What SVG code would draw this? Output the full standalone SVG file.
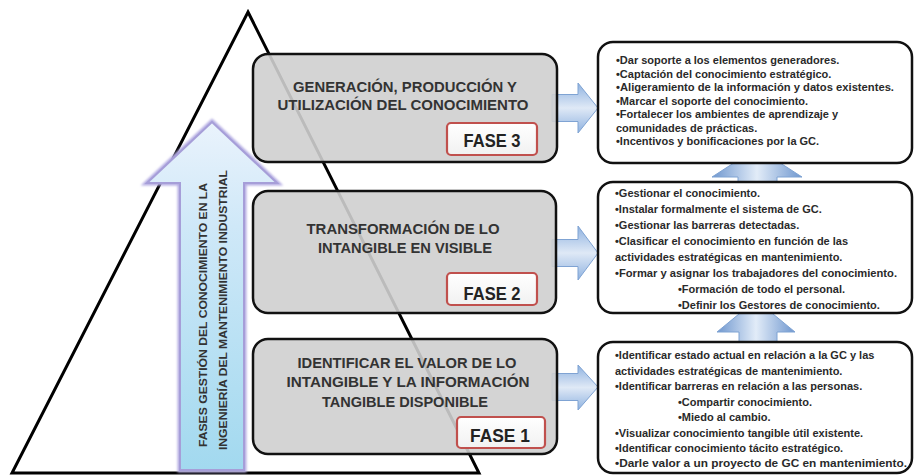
<svg xmlns="http://www.w3.org/2000/svg" width="915" height="475" viewBox="0 0 915 475">
  <defs>
    <style>
      .phase { fill: #cfcfcf; fill-opacity: 0.9; stroke: #111; stroke-width: 2.5; }
      .detail { fill: #fff; stroke: #111; stroke-width: 2.5; }
      .tag { fill: url(#tagFill); stroke: #c0504d; stroke-width: 2.2; }
      .ptitle { font-family: "Liberation Sans", Arial, sans-serif; font-weight: bold; font-size: 14px; fill: #333; text-anchor: middle; }
      .tagtxt { font-family: "Liberation Sans", Arial, sans-serif; font-weight: bold; font-size: 19px; fill: #222; text-anchor: middle; }
      .item { font-family: "Liberation Sans", Arial, sans-serif; font-weight: bold; font-size: 11px; fill: #2a2a2a; }
      .vtxt { font-family: "Liberation Sans", Arial, sans-serif; font-weight: bold; font-size: 11.5px; fill: #333; text-anchor: middle; }
      .rarrow { fill: url(#rArrowFill); stroke: #7fa3d3; stroke-width: 1; }
      .uarrow { fill: url(#uArrowFill); stroke: #7fa3d3; stroke-width: 1; }
    </style>
    <linearGradient id="tagFill" x1="0" y1="0" x2="0" y2="1">
      <stop offset="0" stop-color="#ffffff"/>
      <stop offset="1" stop-color="#f1f1f1"/>
    </linearGradient>
    <linearGradient id="rArrowFill" x1="0" y1="0" x2="0" y2="1">
      <stop offset="0" stop-color="#8fb2e0"/>
      <stop offset="0.5" stop-color="#dfe9f6"/>
      <stop offset="1" stop-color="#8fb2e0"/>
    </linearGradient>
    <linearGradient id="uArrowFill" x1="0" y1="0" x2="1" y2="0">
      <stop offset="0" stop-color="#6f97cf"/>
      <stop offset="0.5" stop-color="#e2ecf8"/>
      <stop offset="1" stop-color="#6f97cf"/>
    </linearGradient>
    <linearGradient id="bigArrowFill" x1="0" y1="0" x2="0" y2="1">
      <stop offset="0" stop-color="#eaf3fc"/>
      <stop offset="0.3" stop-color="#cfe8f8"/>
      <stop offset="1" stop-color="#a2d9ef"/>
    </linearGradient>
    <filter id="soft" x="-10%" y="-10%" width="120%" height="120%">
      <feGaussianBlur stdDeviation="1.2"/>
    </filter>
  </defs>

  <!-- pyramid outline -->
  <g id="pyramid">
    <polygon points="248,12 479,473 12,473" fill="none" stroke="#000" stroke-width="3" stroke-linejoin="miter"/>
  </g>

  <!-- vertical arrow with the axis title -->
  <g id="axis-arrow">
    <polygon points="180,470 180,183 147,183 212,122 277,183 244,183 244,470" fill="none" stroke="#b3abe2" stroke-width="5" filter="url(#soft)"/>
    <polygon points="180,470 180,183 147,183 212,122 277,183 244,183 244,470" fill="url(#bigArrowFill)" stroke="#a69ed8" stroke-width="2"/>
    <text class="vtxt" transform="translate(207,315) rotate(-90)" textLength="264" lengthAdjust="spacingAndGlyphs">FASES GESTIÓN DEL CONOCIMIENTO EN LA</text>
    <text class="vtxt" transform="translate(227,310) rotate(-90)" textLength="280" lengthAdjust="spacingAndGlyphs">INGENIERÍA DEL MANTENIMIENTO INDUSTRIAL</text>
  </g>

  <!-- connectors: phase to actions, and between action groups -->
  <g id="connectors">
    <polygon class="rarrow" points="552,94.5 578,94.5 578,83 598,108 578,133 578,121.5 552,121.5"/>
    <polygon class="rarrow" points="552,239.5 578,239.5 578,226 598,253 578,280 578,266.5 552,266.5"/>
    <polygon class="rarrow" points="552,373.5 578,373.5 578,365 598,387 578,410 578,400.5 552,400.5"/>
    <polygon class="uarrow" points="738,190 738,177 712,177 757,148 802,177 777,177 777,190"/>
    <polygon class="uarrow" points="739,350 739,332 717,332 756,300 795,332 777,332 777,350"/>
  </g>

  <!-- phase 3 -->
  <g id="phase3">
    <rect class="phase" x="253" y="54" width="304" height="108" rx="15"/>
    <text class="ptitle" x="405" y="92" textLength="224" lengthAdjust="spacingAndGlyphs">GENERACIÓN, PRODUCCIÓN Y</text>
    <text class="ptitle" x="403" y="110" textLength="251" lengthAdjust="spacingAndGlyphs">UTILIZACIÓN DEL CONOCIMIENTO</text>
    <rect class="tag" x="447" y="123" width="90" height="32" rx="4"/>
    <text class="tagtxt" x="492" y="147" textLength="57" lengthAdjust="spacingAndGlyphs">FASE 3</text>
  </g>

  <!-- phase 2 -->
  <g id="phase2">
    <rect class="phase" x="253" y="191" width="303" height="122" rx="15"/>
    <text class="ptitle" x="403" y="234" textLength="193" lengthAdjust="spacingAndGlyphs">TRANSFORMACIÓN DE LO</text>
    <text class="ptitle" x="405" y="253" textLength="174" lengthAdjust="spacingAndGlyphs">INTANGIBLE EN VISIBLE</text>
    <rect class="tag" x="447" y="273" width="90" height="32" rx="4"/>
    <text class="tagtxt" x="492" y="300" textLength="57" lengthAdjust="spacingAndGlyphs">FASE 2</text>
  </g>

  <!-- phase 1 -->
  <g id="phase1">
    <rect class="phase" x="253" y="339" width="304" height="115" rx="15"/>
    <text class="ptitle" x="407" y="368" textLength="219" lengthAdjust="spacingAndGlyphs">IDENTIFICAR EL VALOR DE LO</text>
    <text class="ptitle" x="408" y="387" textLength="243" lengthAdjust="spacingAndGlyphs">INTANGIBLE Y LA INFORMACIÓN</text>
    <text class="ptitle" x="405" y="407" textLength="166" lengthAdjust="spacingAndGlyphs">TANGIBLE DISPONIBLE</text>
    <rect class="tag" x="457" y="417" width="88" height="31" rx="4"/>
    <text class="tagtxt" x="500" y="442" textLength="60" lengthAdjust="spacingAndGlyphs">FASE 1</text>
  </g>

  <!-- actions for phase 3 -->
  <g id="actions3">
    <rect class="detail" x="598" y="42" width="314" height="121" rx="15"/>
    <text class="item" x="616" y="64">•Dar soporte a los elementos generadores.</text>
    <text class="item" x="616" y="77.5">•Captación del conocimiento estratégico.</text>
    <text class="item" x="616" y="91" textLength="278" lengthAdjust="spacingAndGlyphs">•Aligeramiento de la información y datos existentes.</text>
    <text class="item" x="616" y="104.5">•Marcar el soporte del conocimiento.</text>
    <text class="item" x="616" y="118">•Fortalecer los ambientes de aprendizaje y</text>
    <text class="item" x="616" y="131.5">comunidades de prácticas.</text>
    <text class="item" x="616" y="145">•Incentivos y bonificaciones por la GC.</text>
  </g>

  <!-- actions for phase 2 -->
  <g id="actions2">
    <rect class="detail" x="598" y="182" width="314" height="131" rx="15"/>
    <text class="item" x="615" y="197">•Gestionar el conocimiento.</text>
    <text class="item" x="615" y="213">•Instalar formalmente el sistema de GC.</text>
    <text class="item" x="615" y="229">•Gestionar las barreras detectadas.</text>
    <text class="item" x="615" y="245">•Clasificar el conocimiento en función de las</text>
    <text class="item" x="615" y="261">actividades  estratégicas en mantenimiento.</text>
    <text class="item" x="615" y="277" textLength="282" lengthAdjust="spacingAndGlyphs">•Formar y asignar los trabajadores del conocimiento.</text>
    <text class="item" x="678" y="293">•Formación de todo el personal.</text>
    <text class="item" x="678" y="308.5">•Definir los Gestores de conocimiento.</text>
  </g>

  <!-- actions for phase 1 -->
  <g id="actions1">
    <rect class="detail" x="598" y="342" width="314" height="131" rx="15"/>
    <text class="item" x="615" y="359">•Identificar estado actual en relación a la GC y las</text>
    <text class="item" x="615" y="374.5">actividades estratégicas de mantenimiento.</text>
    <text class="item" x="615" y="390">•Identificar barreras en relación a las personas.</text>
    <text class="item" x="678" y="405.5">•Compartir conocimiento.</text>
    <text class="item" x="678" y="421">•Miedo al cambio.</text>
    <text class="item" x="615" y="436.5">•Visualizar conocimiento tangible útil existente.</text>
    <text class="item" x="615" y="452">•Identificar conocimiento tácito estratégico.</text>
    <text class="item" x="615" y="467" textLength="292" lengthAdjust="spacingAndGlyphs">•Darle valor a un proyecto de GC en mantenimiento.</text>
  </g>
</svg>
